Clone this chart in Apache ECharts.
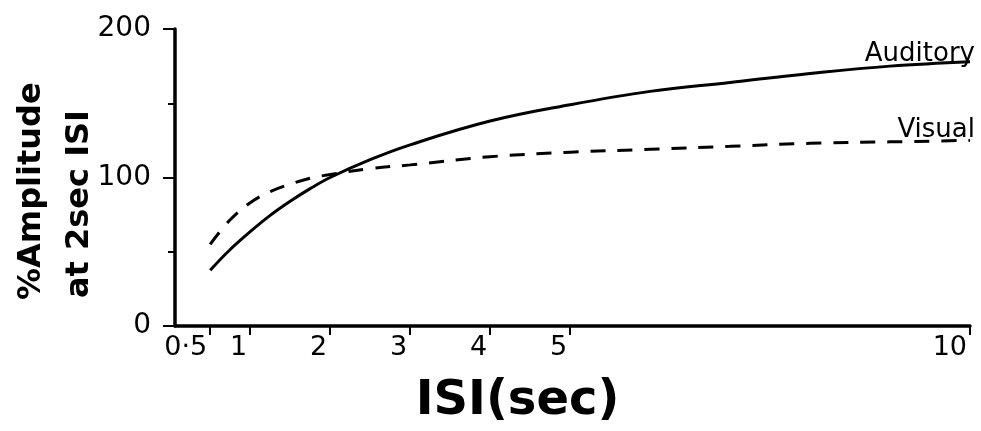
<!DOCTYPE html>
<html>
<head>
<meta charset="utf-8">
<script src="https://cdn.jsdelivr.net/npm/echarts@6/dist/echarts.min.js"></script>
<style>
  html, body { margin: 0; padding: 0; background: #fff; }
  #chart { width: 981px; height: 431px; }
</style>
</head>
<body>
<div id="chart"></div>
<script>
// values
const isi = [0.5, 0.75, 1, 1.25, 1.5, 1.75, 2, 2.5, 3, 4, 5, 6, 7, 8, 9, 10];
const auditory = [37.5, 51.5, 63.5, 74.5, 84, 92.5, 100, 112, 122, 138, 149, 158, 164, 170, 175, 178];
const visual = [55, 71.5, 83, 90.5, 95.5, 99.5, 102, 106, 108.5, 114, 117, 119, 121, 123, 124, 125];
const xTicks = [0.5, 1, 2, 3, 4, 5, 10];

const font = 'DejaVu Sans';

function pairs(ys) {
    return ys.map(function (y, i) { return [isi[i], y]; });
}

function endLabel(name, dy) {
    return {
        show: true, formatter: name, color: '#000', fontFamily: font, fontSize: 26,
        align: 'right', verticalAlign: 'bottom', distance: 0, offset: [5, dy]
    };
}

let chart = echarts.init(document.getElementById('chart'));
let option = {
    animation: false,
    grid: { left: 175, right: 11, top: 29, bottom: 91 },
    xAxis: {
        type: 'value', min: 0.06, max: 10,
        axisLine: { lineStyle: { color: '#000', width: 3.5 } },
        splitLine: { show: false },
        axisTick: { customValues: xTicks, length: 9, lineStyle: { color: '#000', width: 2 } },
        axisLabel: {
            customValues: xTicks, color: '#000', fontFamily: font, fontSize: 27,
            align: 'right', padding: [0, 3, 0, 0], margin: 8,
            formatter: function (v) { return v === 0.5 ? '0\u00b75' : String(v); }
        },
        name: 'ISI(sec)', nameLocation: 'middle', nameGap: 52,
        nameTextStyle: { color: '#000', fontFamily: font, fontWeight: 'bold', fontSize: 48, padding: [0, 110, 0, 0] }
    },
    yAxis: {
        type: 'value', min: 0, max: 200, interval: 100,
        axisLine: { show: true, lineStyle: { color: '#000', width: 3.5 } },
        splitLine: { show: false },
        axisTick: { show: true, length: 12, lineStyle: { color: '#000', width: 2 } },
        minorTick: { show: true, splitNumber: 2, length: 7, lineStyle: { color: '#000', width: 2 } },
        axisLabel: { color: '#000', fontFamily: font, fontSize: 28, margin: 24 }
    },
    graphic: [
        { type: 'text', x: 32, y: 300, rotation: Math.PI / 2,
          style: { text: '%Amplitude', fill: '#000', font: 'bold 32px "DejaVu Sans"', textAlign: 'left', textVerticalAlign: 'middle' } },
        { type: 'text', x: 80, y: 298, rotation: Math.PI / 2,
          style: { text: 'at 2sec ISI', fill: '#000', font: 'bold 32px "DejaVu Sans"', textAlign: 'left', textVerticalAlign: 'middle' } }
    ],
    series: [
        {
            name: 'Auditory', type: 'line', smooth: 0.4, symbol: 'none',
            lineStyle: { color: '#000', width: 3 },
            endLabel: endLabel('Auditory', 6),
            data: pairs(auditory)
        },
        {
            name: 'Visual', type: 'line', smooth: 0.4, symbol: 'none',
            lineStyle: { color: '#000', width: 3, type: [15, 12] },
            endLabel: endLabel('Visual', 3),
            data: pairs(visual)
        }
    ]
};
chart.setOption(option);
</script>
</body>
</html>
